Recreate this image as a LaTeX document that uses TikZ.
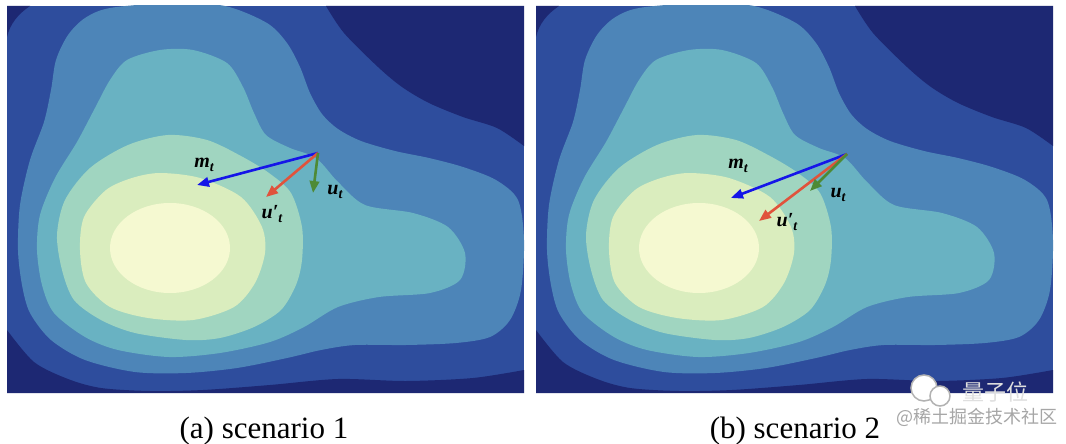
\documentclass[tikz,border=0pt]{standalone}
\usepackage{fontspec}
\setmainfont{Liberation Serif}
\newfontfamily\cjkfont{Noto Sans CJK SC}
\usetikzlibrary{arrows.meta}
\definecolor{LvNavy}{HTML}{1D2873}
\definecolor{LvBlue}{HTML}{2E4D9D}
\definecolor{LvSteel}{HTML}{4D85B8}
\definecolor{LvTeal}{HTML}{69B2C2}
\definecolor{LvMint}{HTML}{A0D5C0}
\definecolor{LvPale}{HTML}{DAEDBE}
\definecolor{LvCream}{HTML}{F5F9D1}
\definecolor{VecBlue}{HTML}{1515E8}
\definecolor{VecRed}{HTML}{E0533C}
\definecolor{VecGreen}{HTML}{4E8A35}
\tikzset{
  vec/.style={-{Triangle[length=12pt,width=9.5pt]},line width=2.6pt},
  vecM/.style={vec,draw=VecBlue,fill=VecBlue},
  vecU/.style={vec,draw=VecGreen,fill=VecGreen},
  vecP/.style={vec,draw=VecRed,fill=VecRed},
  lbl/.style={font=\fontsize{20}{22}\selectfont\bfseries\itshape,inner sep=1pt},
  captext/.style={font=\fontsize{31}{34}\selectfont,anchor=base,inner sep=0pt}
}
\newcommand{\vsub}[1]{\raisebox{-4pt}{\fontsize{14}{15}\selectfont #1}}
% contour levels of one panel, in pixel units of the left panel
\newcommand{\drawlandscape}{%
  \clip (7,6) rectangle (524,393);
  \fill[LvBlue] (7,6) rectangle (524,393);
  \fill[LvNavy] (7,6) -- (30,6) .. controls (18,14) and (10,24) .. (7,37) -- cycle;
  \fill[LvNavy] (524,6) -- (326,6) -- plot[smooth] coordinates {(326,6) (344,33) (378,67) (402,87) (429,103) (463,117) (497,128) (524,146)} -- cycle;
  \fill[LvNavy] (7,393) -- (7,330) -- plot[smooth] coordinates {(7,330) (34,362) (68,379) (101,388) (150,391) (203,390) (270,385) (338,379) (406,381) (473,378) (524,370)} -- (524,393) -- cycle;
  \fill[LvSteel] plot[smooth cycle] coordinates {(110,8) (170,3) (225,6) (267,23) (287,43) (300,67) (310,93) (322,114) (338,129) (361,141) (395,151) (429,158) (463,167) (496,180) (518,200) (524,240) (521,290) (510,320) (490,337) (456,343) (406,345) (355,345) (321,350) (287,358) (237,368) (186,373) (135,372) (85,360) (51,340) (30,313) (22,285) (18,250) (20,205) (30,160) (44,122) (51,90) (56,60) (68,35) (85,18)};
  \fill[LvTeal] plot[smooth cycle] coordinates {(110,80) (127,60) (160,50) (193,50) (227,63) (243,87) (254,113) (266,135) (290,148) (316,158) (338,182) (365,205) (413,213) (448,227) (465,253) (460,280) (430,293) (379,297) (338,307) (304,327) (270,342) (220,353) (169,357) (118,350) (85,337) (54,313) (42,285) (37,250) (40,215) (55,178) (77,142) (95,108)};
  \fill[LvMint] plot[smooth cycle] coordinates {(168,135) (207,140) (241,156) (269,173) (291,193) (302,227) (302,260) (296,285) (281,310) (254,327) (220,338) (186,340) (135,333) (101,320) (74,300) (62,270) (57,235) (65,200) (90,168) (128,145)};
  \fill[LvPale] plot[smooth cycle] coordinates {(160,173) (200,178) (241,197) (262,227) (265,253) (255,283) (234,307) (193,320) (148,318) (110,307) (86,283) (80,250) (84,217) (106,190) (132,178)};
  \fill[LvCream] (170,248) ellipse [x radius=60, y radius=45];
}

\begin{document}
\begin{tikzpicture}[x=1pt,y=-1pt]
  \useasboundingbox (0,0) rectangle (1066,444);
  \fill[white] (0,0) rectangle (1066,444);

  % (a) scenario 1
  \begin{scope}
    \drawlandscape
  \end{scope}
  \coordinate (oa) at (318,153);
  \coordinate (ma) at (197,185);
  \coordinate (pa) at (266,197);
  \coordinate (ua) at (313,193);
  \draw[vecM] (oa) -- (ma);
  \draw[vecP] (oa) -- (pa);
  \draw[vecU] (oa) -- (ua);
  \node[lbl] (lma) at (204,165) {m\vsub{t}};
  \node[lbl] (lua) at (335,192) {u\vsub{t}};
  \node[lbl] (lpa) at (272,214) {u′\vsub{t}};

  % (b) scenario 2
  \begin{scope}[shift={(529,0)}]
    \drawlandscape
  \end{scope}
  \coordinate (ob) at (847,154);
  \coordinate (mb) at (731,198);
  \coordinate (pb) at (759,221);
  \coordinate (ub) at (810,191);
  \draw[vecM] (ob) -- (mb);
  \draw[vecP] (ob) -- (pb);
  \draw[vecU] (ob) -- (ub);
  \node[lbl] (lmb) at (738,166) {m\vsub{t}};
  \node[lbl] (lub) at (838,195) {u\vsub{t}};
  \node[lbl] (lpb) at (787,222) {u′\vsub{t}};

  \node[captext] (capa) at (264,438) {(a) scenario 1};
  \node[captext] (capb) at (795,438) {(b) scenario 2};

  % watermark
  \draw[gray!60,fill=white,line width=1.5pt] (924,388) circle (13);
  \draw[gray!60,fill=white,line width=1.5pt] (940,396) circle (10);
  \node[font=\cjkfont\fontsize{22}{24}\selectfont,text=gray!25,inner sep=0pt] (wm) at (995,392) {量子位};
  \node[font=\cjkfont\fontsize{18}{20}\selectfont,text=gray!70,inner sep=0pt] (wsrc) at (977,417) {@稀土掘金技术社区};
\end{tikzpicture}
\end{document}
